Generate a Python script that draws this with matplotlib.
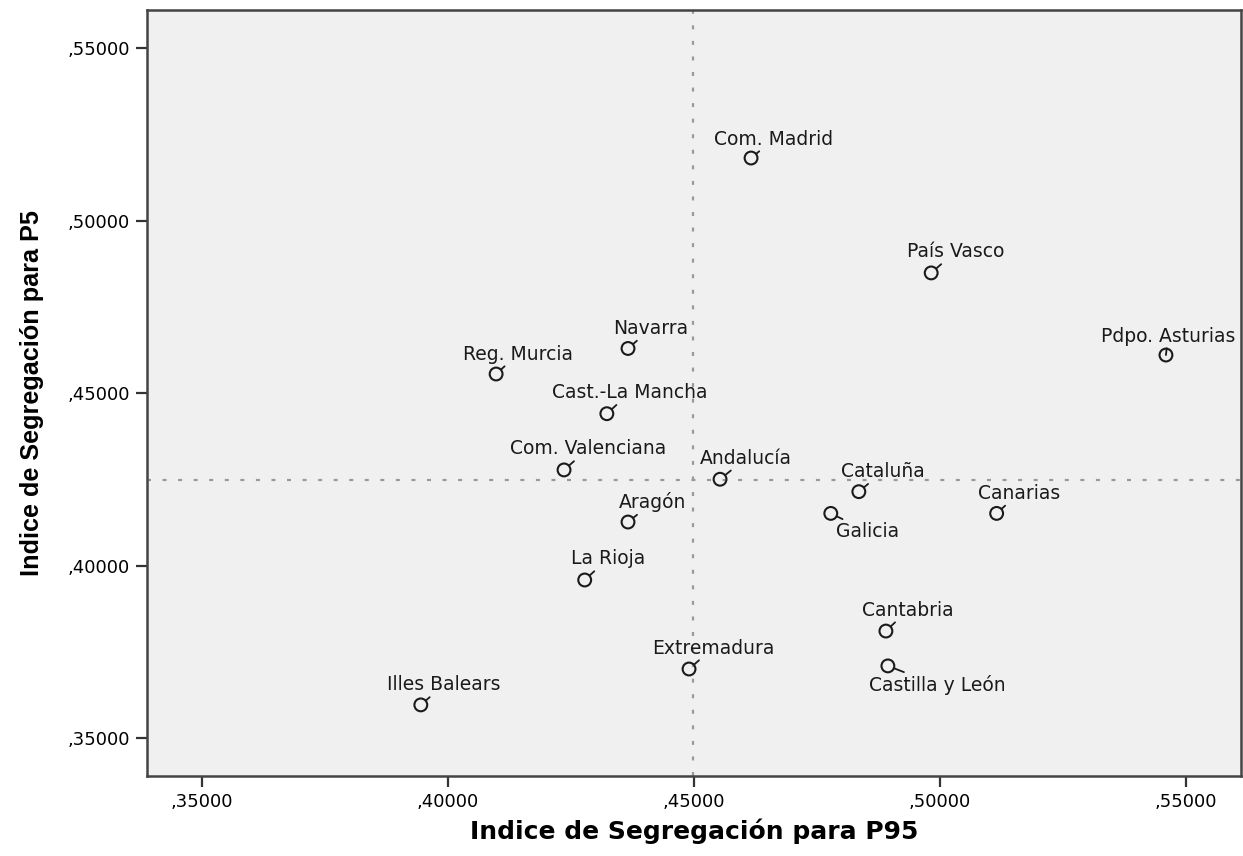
import matplotlib
matplotlib.use("Agg")
import matplotlib.pyplot as plt
from matplotlib.ticker import FuncFormatter, MultipleLocator

plt.rcParams['font.family'] = ['DejaVu Sans']

# data
regions = ['Com. Madrid', 'País Vasco', 'Pdpo. Asturias', 'Navarra', 'Reg. Murcia',
           'Cast.-La Mancha', 'Com. Valenciana', 'Andalucía', 'Aragón', 'Cataluña',
           'Galicia', 'Canarias', 'La Rioja', 'Cantabria', 'Castilla y León',
           'Extremadura', 'Illes Balears']
p95 = [0.4616, 0.4982, 0.5459, 0.4366, 0.4098, 0.4323, 0.4236, 0.4553, 0.4366,
       0.4835, 0.4778, 0.5115, 0.4278, 0.4890, 0.4894, 0.4490, 0.3945]
p5 = [0.5182, 0.4849, 0.4611, 0.4630, 0.4556, 0.4441, 0.4278, 0.4251, 0.4127,
      0.4215, 0.4152, 0.4152, 0.3959, 0.3811, 0.3710, 0.3701, 0.3597]
ref_p95 = 0.4498
ref_p5 = 0.4249

# label offsets (pixels) from each point
offsets = {'Com. Madrid': (23, 19), 'País Vasco': (24, 21), 'Pdpo. Asturias': (2, 19),
           'Navarra': (23, 20), 'Reg. Murcia': (22, 20), 'Cast.-La Mancha': (23, 21),
           'Com. Valenciana': (24, 21), 'Andalucía': (26, 21), 'Aragón': (25, 20),
           'Cataluña': (24, 20), 'Galicia': (37, -18), 'Canarias': (22, 20),
           'La Rioja': (23, 21), 'Cantabria': (22, 21), 'Castilla y León': (49, -19),
           'Extremadura': (24, 21), 'Illes Balears': (23, 20)}

fig = plt.figure(figsize=(12.43, 8.56), dpi=100)
ax = fig.add_axes([0.118, 0.0935, 0.8802, 0.8948])
ax.set_facecolor('#f0f0f0')

ax.axvline(ref_p95, color='#999999', linestyle=(0, (1.8, 5.2)), linewidth=1.6, zorder=1)
ax.axhline(ref_p5, color='#999999', linestyle=(0, (1.8, 5.2)), linewidth=1.6, zorder=1)

ax.scatter(p95, p5, s=85, facecolors='none', edgecolors='#1a1a1a', linewidths=1.5, zorder=3)

for name, x, y in zip(regions, p95, p5):
    dx, dy = offsets[name]
    ax.annotate(name, (x, y), xytext=(dx, dy), textcoords='offset pixels',
                ha='center', va='center', fontsize=13.5, color='#1a1a1a',
                arrowprops=dict(arrowstyle='-', color='#1a1a1a', lw=1.3,
                                shrinkA=0, shrinkB=5))

ax.set_xlim(0.3388, 0.5611)
ax.set_ylim(0.3391, 0.5611)
ax.xaxis.set_major_locator(MultipleLocator(0.05))
ax.yaxis.set_major_locator(MultipleLocator(0.05))
fmt = FuncFormatter(lambda v, pos: f"{v:.5f}".replace("0.", ",", 1))
ax.xaxis.set_major_formatter(fmt)
ax.yaxis.set_major_formatter(fmt)
ax.tick_params(length=8, width=1.6, color='#333333', labelsize=13, pad=4)

for sp in ax.spines.values():
    sp.set_color('#444444')
    sp.set_linewidth(1.8)

ax.set_xlabel('Indice de Segregación para P95', fontsize=18, fontweight='bold', labelpad=6)
ax.set_ylabel('Indice de Segregación para P5', fontsize=18.2, fontweight='bold',
              family='Liberation Sans', labelpad=17)

fig.savefig('out.png', dpi=100)
